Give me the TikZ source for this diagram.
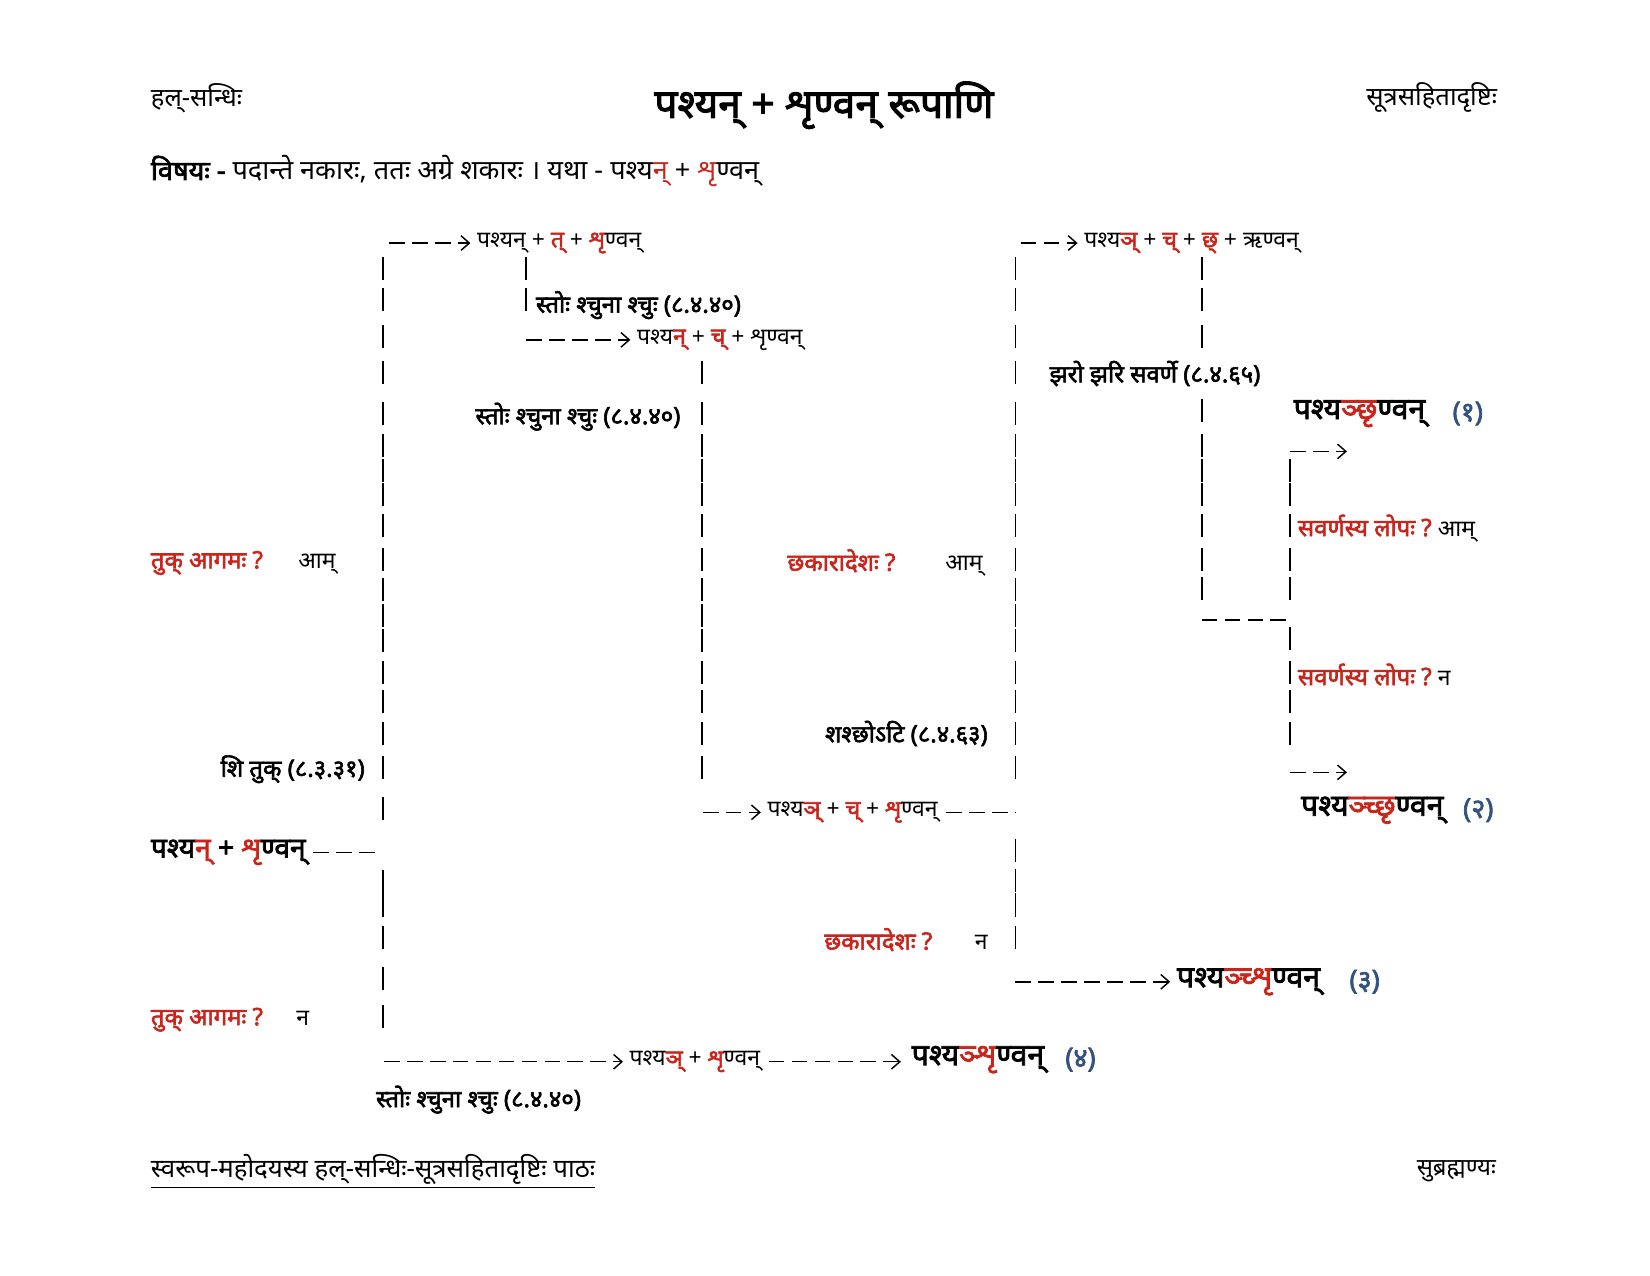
\documentclass[tikz,border=0pt]{standalone}
\usepackage{fontspec}
\setmainfont[Script=Devanagari,BoldFont=*,BoldFeatures={FakeBold=2.5}]{Noto Sans}
\usetikzlibrary{arrows.meta}
\definecolor{laal}{RGB}{200,38,28}
\definecolor{neela}{RGB}{52,82,128}
\newcommand{\laal}[1]{{\color{laal}#1}}
\newcommand{\laalb}[1]{{\color{laal}\bfseries #1}}
\newcommand{\uttar}[1]{{\mdseries\fontsize{11}{13}\selectfont #1}}
\begin{document}
\begin{tikzpicture}[x=0.5051pt,y=-0.5051pt,>={Straight Barb[length=4pt,width=7pt]},
  every node/.style={inner sep=0pt,yshift=-1.5pt,font=\fontsize{11}{13}\selectfont},
  dashline/.style={line width=0.7pt,dash pattern=on 7.5pt off 3.5pt},
  bar/.style={line width=0.75pt},
  sutra/.style={font=\fontsize{11.5}{13}\selectfont\bfseries},
  prashna/.style={font=\fontsize{11.5}{13}\selectfont},
  phalam/.style={font=\fontsize{14.5}{17}\selectfont\bfseries},
  sankhya/.style={font=\fontsize{13}{17}\selectfont\bfseries,text=neela}]
\useasboundingbox (0,0) rectangle (1568,1212);
\path
  (370,0) coordinate (A0)
  (500,0) coordinate (B0)
  (668,0) coordinate (C0)
  (965,0) coordinate (D0)
  (970,0) coordinate (D1)
  (1142,586) coordinate (E0)
  (1226,586) coordinate (F0)
  (1226,426) coordinate (F1)
  (1280,426) coordinate (F1e)
  (1226,731) coordinate (F2)
  (1280,731) coordinate (F2e)
  (362,0) coordinate (A1)
  (365,0) coordinate (A2);
% header
\node[anchor=west,font=\fontsize{12.3}{14}\selectfont] (hal) at (143,90) {हल्-सन्धिः};
\node[font=\fontsize{19.5}{22}\selectfont\bfseries] (title) at (783,97) {पश्यन् + शृण्वन् रूपाणि};
\node[anchor=east,font=\fontsize{12.3}{14}\selectfont] (drishti) at (1423,90) {सूत्रसहितादृष्टिः};
\node[anchor=west,font=\fontsize{13}{15}\selectfont] (vishaya) at (143,160) {\textbf{विषयः -} पदान्ते नकारः, ततः अग्रे शकारः । यथा - पश्य\laal{न्} + \laal{शृ}ण्वन्};
% bars
\foreach \y in {255,285,320,354,393,423,447,470,499,532,560,585,609,639,667,697,729,768,838,860,891,930,966}
  \draw[bar] (364,\y-11) -- (364,\y+11);
\foreach \y in {255,285}
  \draw[bar] (500,\y-11) -- (500,\y+11);
\foreach \y in {354,393,423,447,470,499,532,560,585,609,639,667,697,729}
  \draw[bar] (667,\y-11) -- (667,\y+11);
\foreach \y in {255,285,320,354,393,423,447,470,499,532,560,585,609,639,667,697,729,808,837,860,891}
  \draw[bar] (965,\y-11) -- (965,\y+11);
\foreach \y in {255,285,320,390,423,447,470,499,532,559}
  \draw[bar] (1142,\y-11) -- (1142,\y+11);
\foreach \y in {447,470,499,532,559,607,639,667,697}
  \draw[bar] (1226,\y-11) -- (1226,\y+11);
% steps
\node[anchor=west] (tuk) at (453,228) {पश्यन् + \laalb{त्} + \laalb{शृ}ण्वन्};
\node[anchor=west] (chhaadi) at (1030,228) {पश्य\laalb{ञ्} + \laalb{च्} + \laalb{छ्} + ऋण्वन्};
\node[sutra,anchor=west] (s1) at (509,287) {स्तोः श्चुना श्चुः (८.४.४०)};
\node[anchor=west] (nac) at (605,320) {पश्य\laalb{न्} + \laalb{च्} + शृण्वन्};
\node[sutra,anchor=east] (s2) at (647,393) {स्तोः श्चुना श्चुः (८.४.४०)};
\node[sutra,anchor=west] (s3) at (997,352) {झरो झरि सवर्णे (८.४.६५)};
\node[sutra,anchor=east] (s4) at (939,694) {शश्छोऽटि (८.४.६३)};
\node[sutra,anchor=east] (s5) at (347,728) {शि तुक् (८.३.३१)};
\node[anchor=west] (nyac) at (729,769) {पश्य\laalb{ञ्} + \laalb{च्} + \laalb{शृ}ण्वन्};
\node[anchor=west,font=\fontsize{13.5}{15}\selectfont\bfseries] (mool) at (143,807) {पश्य\laal{न्} + \laal{शृ}ण्वन्};
\node[anchor=west] (nyash) at (598,1006) {पश्य\laalb{ञ्} + \laalb{शृ}ण्वन्};
\node[sutra,anchor=west] (s6) at (357,1042) {स्तोः श्चुना श्चुः (८.४.४०)};
% questions
\node[prashna,anchor=west] (q1) at (143,532) {\laalb{तुक् आगमः ?}\hspace{17pt}\uttar{आम्}};
\node[prashna,anchor=west] (q2) at (748,532) {\laalb{छकारादेशः ?}\hspace{24pt}\uttar{आम्}};
\node[prashna,anchor=west] (q3) at (1233,499) {\laalb{सवर्णस्य लोपः ?}\hspace{3pt}\uttar{आम्}};
\node[prashna,anchor=west] (q4) at (1233,638) {\laalb{सवर्णस्य लोपः ?}\hspace{3pt}\uttar{न}};
\node[prashna,anchor=west] (q5) at (783,890) {\laalb{छकारादेशः ?}\hspace{20.5pt}\uttar{न}};
\node[prashna,anchor=west] (q6) at (143,966) {\laalb{तुक् आगमः ?}\hspace{16pt}\uttar{न}};
% results
\node[phalam,anchor=west] (r1) at (1229,390) {पश्य\laal{ञ्छृ}ण्वन्};
\node[sankhya,anchor=west] (n1) at (1380,390) {(१)};
\node[phalam,anchor=west] (r2) at (1236,767) {पश्य\laal{ञ्च्छृ}ण्वन्};
\node[sankhya,anchor=west] (n2) at (1390,767) {(२)};
\node[phalam,anchor=west] (r3) at (1118,930) {पश्य\laal{ञ्च्शृ}ण्वन्};
\node[sankhya,anchor=west] (n3) at (1282,930) {(३)};
\node[phalam,anchor=west] (r4) at (866,1004) {पश्य\laal{ञ्शृ}ण्वन्};
\node[sankhya,anchor=west] (n4) at (1012,1004) {(४)};
% connectors
\draw[dashline,->,shorten >=3pt] (A0 |- tuk.west) -- (tuk.west);
\draw[dashline,->,shorten >=3pt] (D1 |- chhaadi.west) -- (chhaadi.west);
\draw[dashline,->,shorten >=3pt] (B0 |- nac.west) -- (nac.west);
\draw[dashline,->,shorten >=3pt] (C0 |- nyac.west) -- (nyac.west);
\draw[dashline] ([xshift=4pt]nyac.east) -- (D0 |- nyac.east);
\draw[dashline] ([xshift=3.5pt]mool.east) -- (A1 |- mool.east);
\draw[dashline] (E0) -- (F0);
\draw[dashline,->] (F1) -- (F1e);
\draw[dashline,->] (F2) -- (F2e);
\draw[dashline,->,shorten >=3pt] (D0 |- r3.west) -- (r3.west);
\draw[dashline,->,shorten >=3pt] (A2 |- nyash.west) -- (nyash.west);
\draw[dashline,->,shorten >=5pt] ([xshift=4pt]nyash.east) -- (nyash.east -| r4.west);
% footer
\node[anchor=west,font=\fontsize{12.4}{14}\selectfont] (paath) at (143,1110) {\underline{स्वरूप-महोदयस्य हल्-सन्धिः-सूत्रसहितादृष्टिः पाठः}};
\node[anchor=east,font=\fontsize{11.5}{14}\selectfont] (naam) at (1422,1110) {सुब्रह्मण्यः};
\end{tikzpicture}
\end{document}
